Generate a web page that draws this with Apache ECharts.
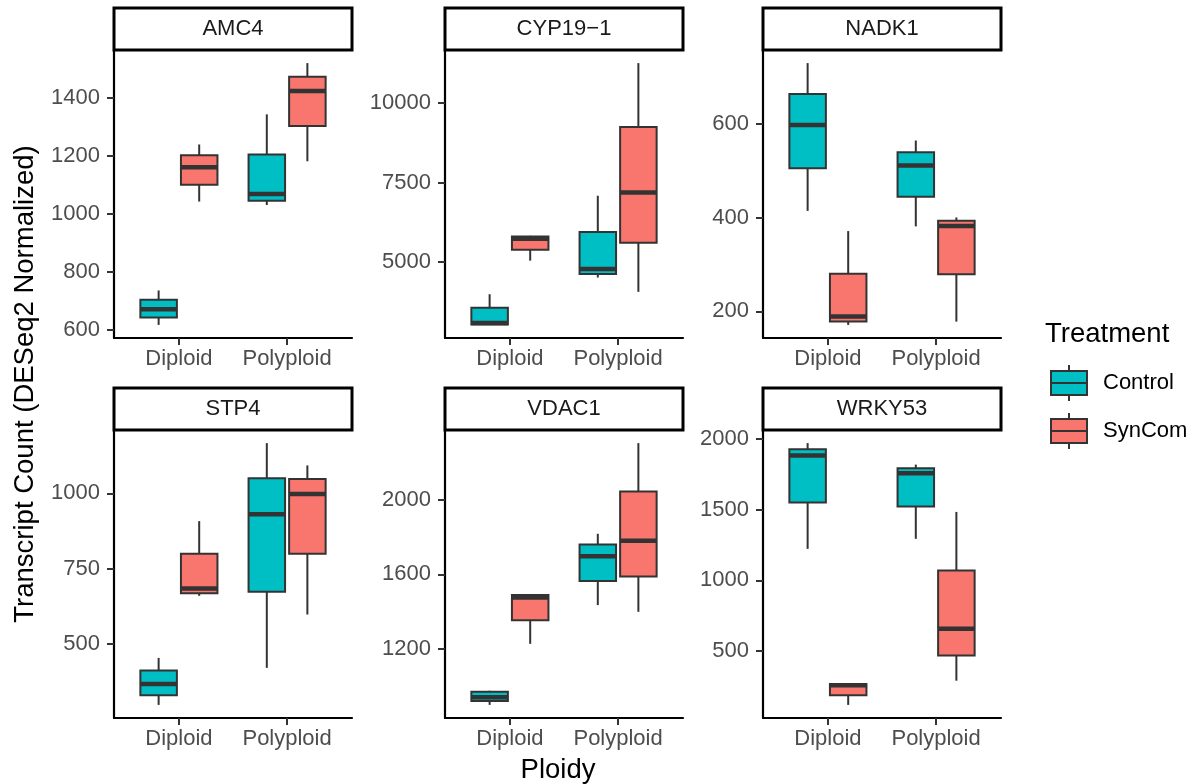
<!DOCTYPE html>
<html>
<head>
<meta charset="utf-8">
<title>Transcript counts by ploidy</title>
<script src="https://cdn.jsdelivr.net/npm/echarts@6/dist/echarts.min.js"></script>
<style>
  html, body { margin: 0; padding: 0; background: #fff; }
  #chart { width: 1200px; height: 784px; }
</style>
</head>
<body>
<div id="chart"></div>
<script>
const genes = ['AMC4', 'CYP19−1', 'NADK1', 'STP4', 'VDAC1', 'WRKY53'];
const ploidy = ['Diploid', 'Polyploid'];
const treatments = ['Control', 'SynCom'];
const treatmentColors = ['#00BFC4', '#F8766D'];

// box stats [min, Q1, median, Q3, max] -> Diploid, Polyploid
const amc4Control = [[616, 642, 670, 703, 735], [1030, 1045, 1068, 1204, 1343]];
const amc4SynCom = [[1042, 1100, 1160, 1202, 1239], [1181, 1303, 1424, 1473, 1520]];
const cyp19Control = [[3030, 3040, 3090, 3570, 3995], [4520, 4630, 4790, 5950, 7090]];
const cyp19SynCom = [[5050, 5390, 5740, 5810, 5830], [4070, 5610, 7190, 9250, 11260]];
const nadk1Control = [[414, 505, 597, 663, 729], [381, 444, 511, 539, 564]];
const nadk1SynCom = [[171, 178, 189, 280, 371], [178, 279, 382, 393, 400]];
const stp4Control = [[298, 330, 367, 412, 454], [421, 674, 931, 1050, 1167]];
const stp4SynCom = [[660, 669, 684, 800, 908], [598, 800, 998, 1048, 1093]];
const vdac1Control = [[899, 920, 940, 969, 975], [1435, 1565, 1697, 1760, 1818]];
const vdac1SynCom = [[1227, 1354, 1476, 1489, 1492], [1399, 1588, 1781, 2045, 2305]];
const wrky53Control = [[1222, 1549, 1881, 1926, 1969], [1293, 1521, 1756, 1791, 1817]];
const wrky53SynCom = [[120, 189, 258, 268, 272], [291, 469, 657, 1070, 1483]];

// y tick labels per panel
const amc4Ticks = [600, 800, 1000, 1200, 1400];
const cyp19Ticks = [5000, 7500, 10000];
const nadk1Ticks = [200, 400, 600];
const stp4Ticks = [500, 750, 1000];
const vdac1Ticks = [1200, 1600, 2000];
const wrky53Ticks = [500, 1000, 1500, 2000];

const panels = [
  { gene: genes[0], stats: [amc4Control, amc4SynCom], ticks: amc4Ticks },
  { gene: genes[1], stats: [cyp19Control, cyp19SynCom], ticks: cyp19Ticks },
  { gene: genes[2], stats: [nadk1Control, nadk1SynCom], ticks: nadk1Ticks },
  { gene: genes[3], stats: [stp4Control, stp4SynCom], ticks: stp4Ticks },
  { gene: genes[4], stats: [vdac1Control, vdac1SynCom], ticks: vdac1Ticks },
  { gene: genes[5], stats: [wrky53Control, wrky53SynCom], ticks: wrky53Ticks }
];

const FONT = '"Liberation Sans", Arial, Helvetica, sans-serif';
const colLeft = [114, 445, 763];
const rowTop = [50, 430];
const panelW = 238, panelH = 288, stripH = 42;
const DODGE = 0.1875, HALF = 0.16875;

function boxRenderer(offset, fill) {
  return function (params, api) {
    const x = api.value(0) + offset;
    const lo = api.coord([x, api.value(1)]);
    const q1 = api.coord([x - HALF, api.value(2)]);
    const med = api.coord([x - HALF, api.value(3)]);
    const q3 = api.coord([x + HALF, api.value(4)]);
    const hi = api.coord([x, api.value(5)]);
    const line = { stroke: '#333333', lineWidth: 2 };
    return {
      type: 'group',
      children: [
        { type: 'line', shape: { x1: lo[0], y1: lo[1], x2: lo[0], y2: q1[1] }, style: line },
        { type: 'line', shape: { x1: hi[0], y1: hi[1], x2: hi[0], y2: q3[1] }, style: line },
        { type: 'rect', shape: { x: q1[0], y: q3[1], width: q3[0] - q1[0], height: q1[1] - q3[1] },
          style: { fill: fill, stroke: '#333333', lineWidth: 2 } },
        { type: 'line', shape: { x1: med[0], y1: med[1], x2: q3[0], y2: med[1] },
          style: { stroke: '#333333', lineWidth: 4.5 } }
      ]
    };
  };
}

const grids = [], xAxes = [], yAxes = [], series = [], graphics = [];

panels.forEach((p, i) => {
  const left = colLeft[i % 3], top = rowTop[Math.floor(i / 3)];
  grids.push({ left: left, top: top, width: panelW, height: panelH, outerBoundsMode: 'none' });

  // ggplot style 5% expansion of the data range
  const all = p.stats.flat(2);
  const lo = Math.min(...all), hi = Math.max(...all);
  const pad = (hi - lo) * 0.05;

  xAxes.push({
    gridIndex: i, type: 'value', min: 0.4, max: 2.6,
    splitLine: { show: false },
    axisLine: { lineStyle: { color: '#000', width: 2.2 } },
    axisTick: { customValues: [1, 2], length: 7, lineStyle: { color: '#333', width: 2 } },
    axisLabel: {
      customValues: [1, 2], margin: 10, fontSize: 22, fontFamily: FONT, color: '#4D4D4D',
      formatter: v => ploidy[Math.round(v) - 1]
    }
  });
  yAxes.push({
    gridIndex: i, type: 'value', min: lo - pad, max: hi + pad,
    splitLine: { show: false },
    axisLine: { show: true, lineStyle: { color: '#000', width: 2.2 } },
    axisTick: { show: true, customValues: p.ticks, length: 7, lineStyle: { color: '#333', width: 2 } },
    axisLabel: {
      customValues: p.ticks, margin: 14, fontSize: 22, fontFamily: FONT, color: '#4D4D4D',
      formatter: v => String(v)
    }
  });

  treatments.forEach((t, k) => {
    series.push({
      name: t, type: 'custom', xAxisIndex: i, yAxisIndex: i,
      itemStyle: { color: treatmentColors[k] },
      encode: { x: 0, y: [1, 2, 3, 4, 5] },
      renderItem: boxRenderer(k === 0 ? -DODGE : DODGE, treatmentColors[k]),
      data: p.stats[k].map((s, j) => [j + 1].concat(s))
    });
  });

  graphics.push({
    type: 'rect', z: 10,
    shape: { x: left, y: top - stripH, width: panelW, height: stripH },
    style: { fill: '#fff', stroke: '#000', lineWidth: 3 }
  });
  graphics.push({
    type: 'text', z: 11, x: left + panelW / 2, y: top - stripH / 2,
    style: { text: p.gene, font: '22px ' + FONT, fill: '#1A1A1A', align: 'center', verticalAlign: 'middle' }
  });
});

graphics.push({
  type: 'text', x: 25, y: 384, rotation: Math.PI / 2,
  style: { text: 'Transcript Count (DESeq2 Normalized)', font: '27.5px ' + FONT, fill: '#000',
    align: 'center', verticalAlign: 'middle' }
});
graphics.push({
  type: 'text', x: 558, y: 770,
  style: { text: 'Ploidy', font: '27.5px ' + FONT, fill: '#000', align: 'center', verticalAlign: 'middle' }
});
graphics.push({
  type: 'text', x: 1045, y: 334,
  style: { text: 'Treatment', font: '27.5px ' + FONT, fill: '#000', align: 'left', verticalAlign: 'middle' }
});

const keyIcon = 'path://M18,0V6M0,6H36V30H0ZM0,18H36M18,30V36';

const chart = echarts.init(document.getElementById('chart'), null, { renderer: 'canvas' });
chart.setOption({
  animation: false,
  backgroundColor: '#fff',
  grid: grids,
  xAxis: xAxes,
  yAxis: yAxes,
  legend: {
    orient: 'vertical', left: 1050, top: 364, padding: 0,
    itemWidth: 36, itemHeight: 36, itemGap: 10,
    data: treatments.map(t => ({ name: t, icon: keyIcon })),
    itemStyle: { borderColor: '#333333', borderWidth: 2 },
    textStyle: { fontSize: 22, fontFamily: FONT, color: '#000', padding: [0, 0, 0, 11] }
  },
  graphic: graphics,
  series: series
});
</script>
</body>
</html>
